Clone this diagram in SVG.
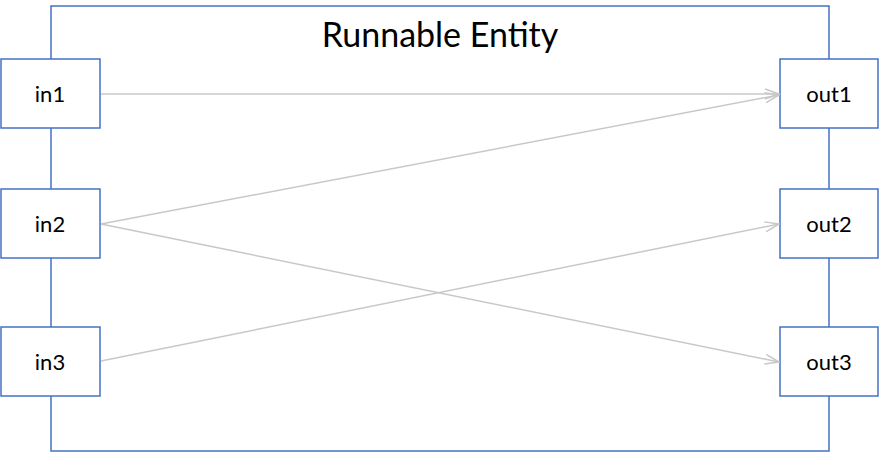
<svg xmlns="http://www.w3.org/2000/svg" width="879" height="453" viewBox="0 0 879 453">
<style>
.b{fill:#fff;stroke:#4472c4;stroke-width:1.5}
.t{font-family:Lato,"Liberation Sans",sans-serif;font-size:22px;fill:#000;text-anchor:middle}
.c{stroke:#c8c8c8;stroke-width:1.5;fill:none;marker-end:url(#a)}
</style>
<defs><marker id="a" markerWidth="16" markerHeight="12" refX="15" refY="6" orient="auto" markerUnits="userSpaceOnUse"><path d="M1,1 L15,6 L1,11" fill="none" stroke="#c8c8c8" stroke-width="1.5"/></marker></defs>
<g id="entity"><rect class="b" x="51" y="6" width="778" height="445"/><text class="t" x="440" y="47" style="font-size:34px">Runnable Entity</text></g>
<g id="in1"><rect class="b" x="1" y="59" width="99" height="69"/><text class="t" x="50" y="102">in1</text></g>
<g id="in2"><rect class="b" x="1" y="189" width="99" height="69"/><text class="t" x="50" y="232">in2</text></g>
<g id="in3"><rect class="b" x="1" y="327" width="99" height="69"/><text class="t" x="50" y="370">in3</text></g>
<g id="out1"><rect class="b" x="780" y="59" width="98" height="69"/><text class="t" x="829" y="102">out1</text></g>
<g id="out2"><rect class="b" x="780" y="189" width="98" height="69"/><text class="t" x="829" y="232">out2</text></g>
<g id="out3"><rect class="b" x="780" y="327" width="98" height="69"/><text class="t" x="829" y="370">out3</text></g>
<g id="connectors">
<line class="c" x1="101" y1="94" x2="779" y2="94"/>
<line class="c" x1="101" y1="224" x2="779" y2="95"/>
<line class="c" x1="101" y1="224" x2="779" y2="362"/>
<line class="c" x1="101" y1="361" x2="779" y2="224"/>
</g>
</svg>
